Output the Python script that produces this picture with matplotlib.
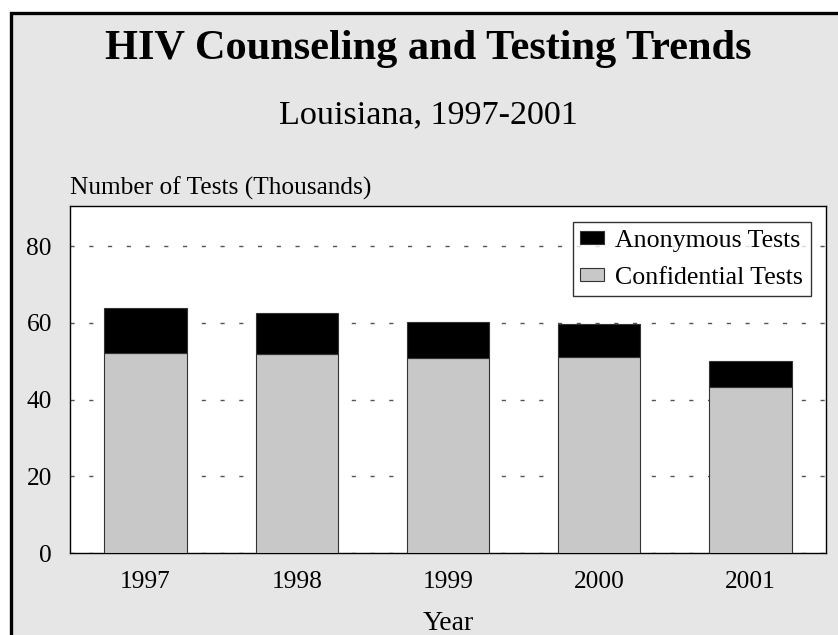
import matplotlib
matplotlib.use("Agg")
import matplotlib.pyplot as plt
from matplotlib.patches import Rectangle
import numpy as np

plt.rcParams['font.family'] = ['Liberation Serif', 'DejaVu Serif']

# datos (miles de pruebas)
years = ["1997", "1998", "1999", "2000", "2001"]
confidential = [52.1, 51.9, 50.9, 51.1, 43.2]
anonymous = [11.9, 10.6, 9.4, 8.7, 7.0]

W, H = 838, 635
fig = plt.figure(figsize=(W / 100, H / 100), dpi=100)
fig.patch.set_facecolor("white")

# marco gris con borde negro (recortado a derecha y abajo)
fig.patches.append(Rectangle((10.5 / W, -0.05), 1.1, 1.05 - 13.0 / H,
                             transform=fig.transFigure, facecolor="#e6e6e6",
                             edgecolor="black", linewidth=2.4, zorder=-10,
                             clip_on=False))

ax = fig.add_axes([70 / W, 1 - 553 / H, (826 - 70) / W, (553 - 206) / H])
ax.set_zorder(2)
ax.set_facecolor("white")

x = np.arange(len(years))
ax.bar(x, confidential, width=0.545, color="#c8c8c8", edgecolor="#333333",
       linewidth=0.8, label="Confidential Tests", zorder=3)
ax.bar(x, anonymous, width=0.545, bottom=confidential, color="black",
       edgecolor="#333333", linewidth=0.8, label="Anonymous Tests", zorder=3)

ax.set_xlim(-0.5, 4.5)
ax.set_ylim(0, 90.5)
ax.set_yticks([0, 20, 40, 60, 80])
ax.set_xticks(x)
ax.set_xticklabels(years)
ax.tick_params(axis="both", length=0, labelsize=18.3)
ax.tick_params(axis="x", pad=13)
ax.tick_params(axis="y", pad=13)

ax.yaxis.grid(True, color="#555555", linewidth=1.0, linestyle=(0, (3, 10.5)),
              zorder=1)
ax.set_axisbelow(True)
for s in ax.spines.values():
    s.set_color("black")
    s.set_linewidth(1.0)

handles, labels = ax.get_legend_handles_labels()
leg = ax.legend(handles[::-1], labels[::-1], loc="upper right",
                bbox_to_anchor=(0.980, 0.954), borderaxespad=0, fontsize=18.6,
                frameon=True, fancybox=False, edgecolor="black",
                handlelength=0.9, handleheight=0.45, handletextpad=0.45,
                labelspacing=0.58, borderpad=0.3)
leg.get_frame().set_linewidth(1.0)
leg.set_zorder(5)

fig.text(428 / W, 1 - 59.3 / H, "HIV Counseling and Testing Trends",
         ha="center", va="baseline", fontsize=30.5, fontweight="bold")
fig.text(428 / W, 1 - 123 / H, "Louisiana, 1997-2001",
         ha="center", va="baseline", fontsize=24.6)
fig.text(70 / W, 1 - 195 / H, "Number of Tests (Thousands)",
         ha="left", va="baseline", fontsize=18.3)
fig.text(448 / W, 1 - 630 / H, "Year", ha="center", va="baseline",
         fontsize=20)

fig.savefig("out.png", dpi=100)
